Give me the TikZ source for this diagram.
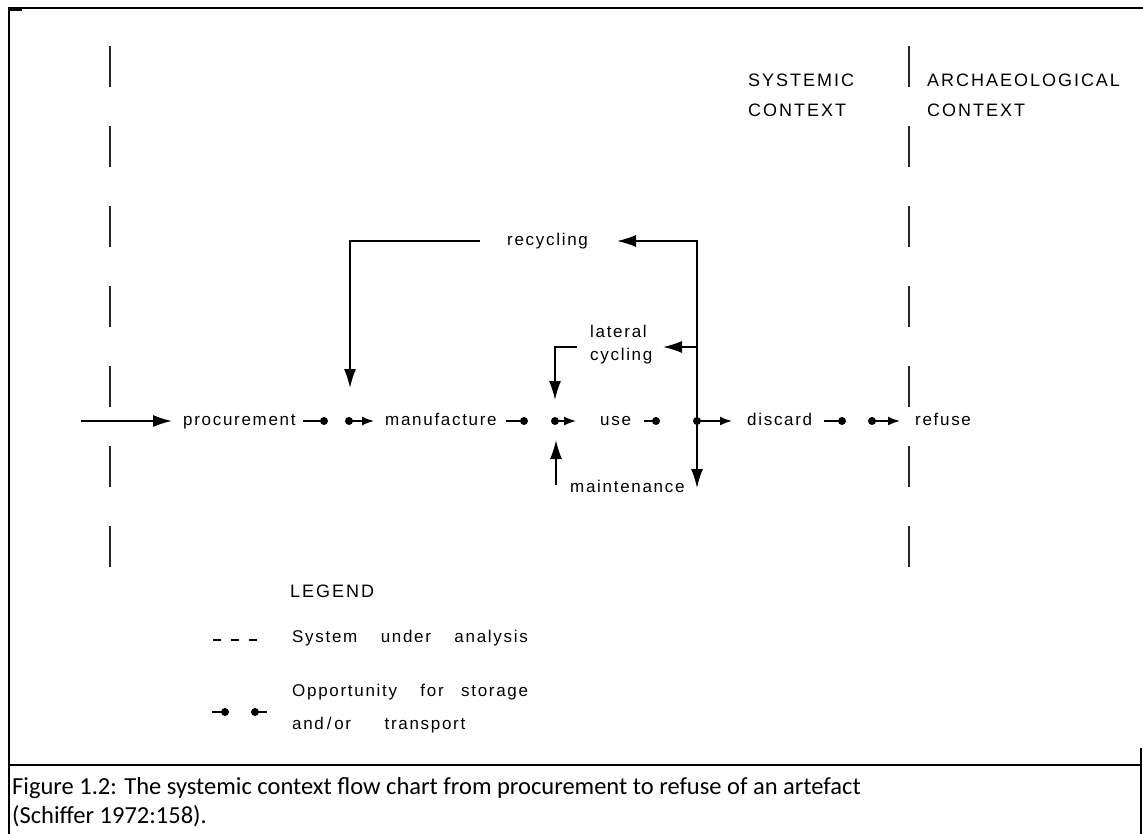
\documentclass[tikz,border=0pt]{standalone}
\usepackage{fontspec}
\setmainfont{Carlito}
\newfontfamily\lblfont[LetterSpace=10]{Liberation Sans}
\newfontfamily\capfont[LetterSpace=11]{Liberation Sans}
\usetikzlibrary{arrows.meta}

\tikzset{
  term/.style={font=\lblfont\fontsize{17}{19}\selectfont, inner sep=0pt, anchor=base west},
  head/.style={font=\capfont\fontsize{18}{30}\selectfont, inner sep=0pt, align=left, anchor=north west},
  flow/.style={line width=1.5pt},
  bigarrow/.style={flow, -{Latex[length=19pt,width=12pt]}},
  smallarrow/.style={flow, -{Latex[length=12pt,width=9pt]}},
  spot/.style={circle, fill, inner sep=0pt, minimum size=8pt},
  boundary/.style={line width=2pt, dash pattern=on 41pt off 39pt, black!85},
  frameline/.style={line width=2pt},
}

\begin{document}
\begin{tikzpicture}[x=1pt,y=-1pt]
\useasboundingbox (0,0) rectangle (1143,834);

% frame
\draw[frameline] (9,834) -- (9,8) -- (1143,8);
\draw[line width=3pt] (9,9.5) -- (22,9.5);
\draw[frameline] (9,765) -- (1141,765);
\draw[frameline] (1141,748) -- (1141,834);

% system boundaries
\coordinate (bl1) at (110,46);  \coordinate (bl2) at (110,570);
\coordinate (br1) at (909,46);  \coordinate (br2) at (909,570);
\draw[boundary] (bl1) -- (bl2);
\draw[boundary] (br1) -- (br2);

% headings
\node[head] (sys) at (748,73.5) {SYSTEMIC\\CONTEXT};
\node[head] (arch) at (927,73.5) {ARCHAEOLOGICAL\\CONTEXT};

% main flow terms
\node[term] (proc) at (183,425.4) {procurement};
\node[term] (manu) at (385,425.4) {manufacture};
\node[term] (use)  at (600,425.4) {use};
\node[term] (disc) at (747,425.4) {discard};
\node[term] (ref)  at (915,425.4) {refuse};

% storage / transport spots
\node[spot] (d1) at (324,421) {};
\node[spot] (d2) at (349,421) {};
\node[spot] (d3) at (524,421) {};
\node[spot] (d4) at (555,421) {};
\node[spot] (d5) at (656,421) {};
\node[spot] (d6) at (697,421) {};
\node[spot] (d7) at (842,421) {};
\node[spot] (d8) at (872,421) {};

\coordinate (in) at (81,421);
\draw[bigarrow, shorten >=11pt] (in) -- (proc.west |- in);
\draw[flow, shorten <=7pt] (proc.east |- d1) -- (d1.center);
\draw[smallarrow, shorten >=11pt] (d2.center) -- (manu.west |- d2);
\draw[flow, shorten <=9pt] (manu.east |- d3) -- (d3.center);
\draw[smallarrow, shorten >=24pt] (d4.center) -- (use.west |- d4);
\draw[flow, shorten <=13pt] (use.east |- d5) -- (d5.center);
\draw[smallarrow, shorten >=15pt] (d6.center) -- (disc.west |- d6);
\draw[flow, shorten <=12pt] (disc.east |- d7) -- (d7.center);
\draw[smallarrow, shorten >=15pt] (d8.center) -- (ref.west |- d8);

% branch labels
\node[term] (recyc) at (507,245.4) {recycling};
\node[term, anchor=west, align=left, font=\lblfont\fontsize{17}{23}\selectfont] (latc) at (590,345) {lateral\\cycling};
\node[term] (maint) at (570,492.4) {maintenance};

% branch connectors
\coordinate (rtop) at (697,241);
\coordinate (rtip) at (617,241);
\coordinate (lat)  at (697,347);
\coordinate (ltip) at (663,347);
\coordinate (mtip) at (697,488);
\draw[bigarrow] (d6.center) -- (mtip);
\draw[bigarrow] (d6.center) -- (rtop) -- (rtip);
\draw[bigarrow] (lat) -- (ltip);

\coordinate (recL) at (480,241);
\coordinate (manutip) at (350,388);
\draw[bigarrow] (recL) -| (manutip);

\coordinate (latL) at (577,347);
\coordinate (usetip) at (555,400);
\draw[bigarrow] (latL) -| (usetip);

\coordinate (mntS) at (556,485);
\coordinate (mnttip) at (556,440);
\draw[bigarrow] (mntS) -- (mnttip);

% legend
\node[head, anchor=base west] (leg) at (290,597.5) {LEGEND};
\coordinate (ldA) at (213,640);
\coordinate (ldB) at (258,640);
\draw[flow, dash pattern=on 8pt off 10pt] (ldA) -- (ldB);
\node[term] (lsys) at (292,642.4) {System\hspace{17pt} under\hspace{17pt} analysis};
\node[term] (lopp) at (292,696.4) {Opportunity\hspace{17pt} for\hspace{11pt} storage};
\node[term] (land) at (292,729.4) {and\,/\,or\hspace{27pt} transport};
\node[spot] (ls1) at (225,712) {};
\node[spot] (ls2) at (255,712) {};
\coordinate (lsa) at (212,712);
\coordinate (lsb) at (267,712);
\draw[flow] (lsa) -- (ls1.center);
\draw[flow] (ls2.center) -- (lsb);

% caption
\node[inner sep=0pt, anchor=north west, align=left, font=\fontsize{24.5}{29}\selectfont] (cap) at (12,777)
  {Figure 1.2: The systemic context flow chart from procurement to refuse of an artefact\\(Schiffer 1972:158).};
\end{tikzpicture}
\end{document}
